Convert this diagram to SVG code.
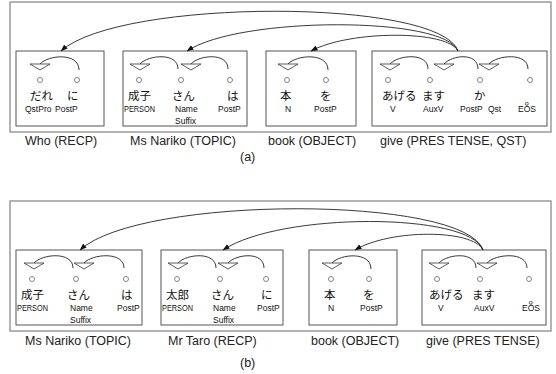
<svg xmlns="http://www.w3.org/2000/svg" xmlns:xlink="http://www.w3.org/1999/xlink" width="556" height="374" viewBox="0 0 556 374">
<style>
.frame{fill:none;stroke:#8c8c8c;stroke-width:1.3}
.box{fill:#fff;stroke:#555;stroke-width:1}
.arc{fill:none;stroke:#222;stroke-width:0.9}
.chev{fill:#fff;stroke:#333;stroke-width:0.8}
.dot{fill:#fff;stroke:#666;stroke-width:0.8}
.jp{font-family:"Noto Sans CJK JP","Noto Sans CJK SC",sans-serif;font-size:11.5px;fill:#111}
.pos{font-family:"Liberation Sans",Arial,sans-serif;font-size:8.5px;fill:#111}
.cap{font-family:"Liberation Sans",Arial,sans-serif;font-size:12.5px;fill:#222}
.conn{fill:none;stroke:#222;stroke-width:0.9;marker-end:url(#ah)}
</style>
<defs>
<marker id="ah" viewBox="0 0 8 6" refX="7.5" refY="3" markerWidth="7" markerHeight="5.5" orient="auto" markerUnits="userSpaceOnUse"><path d="M0,0 L8,3 L0,6 z" fill="#111"/></marker>
<path id="chev" class="chev" d="M-10,0 L10,0 L0,6 Z"/>
</defs>
<rect width="556" height="374" fill="#fff"/>

<!-- (a) -->
<g id="frame-a"><rect class="frame" x="10" y="2" width="541" height="130"/></g>

<g id="a-who">
<rect class="box" x="16" y="51" width="88" height="75"/>
<path class="arc" d="M40,64 C48,55 79,52 79,70"/>
<use xlink:href="#chev" x="40" y="64"/>
<circle class="dot" cx="40" cy="80" r="2.5"/><circle class="dot" cx="77" cy="80" r="2.5"/>
<text class="jp" x="30" y="100">だれ</text><text class="jp" x="67" y="100">に</text>
<text class="pos" x="25" y="112">QstPro</text><text class="pos" x="55" y="112">PostP</text>
</g>

<g id="a-nariko">
<rect class="box" x="123" y="51" width="124" height="75"/>
<path class="arc" d="M140,64 C148,55 178,52 178,69"/>
<path class="arc" d="M191,64 C199,55 228,52 228,69"/>
<use xlink:href="#chev" x="140" y="64"/><use xlink:href="#chev" x="191" y="64"/>
<circle class="dot" cx="139" cy="80" r="2.5"/><circle class="dot" cx="181" cy="80" r="2.5"/><circle class="dot" cx="230" cy="80" r="2.5"/>
<text class="jp" x="128" y="100">成子</text><text class="jp" x="172" y="100">さん</text><text class="jp" x="227" y="100">は</text>
<text class="pos" x="124" y="112" textLength="31" lengthAdjust="spacingAndGlyphs">PERSON</text>
<text class="pos" x="175" y="112">Name</text><text class="pos" x="175" y="124">Suffix</text>
<text class="pos" x="218" y="112">PostP</text>
</g>

<g id="a-book">
<rect class="box" x="266" y="51" width="90" height="75"/>
<path class="arc" d="M288,64 C296,55 328,52 328,70"/>
<use xlink:href="#chev" x="288" y="64"/>
<circle class="dot" cx="287" cy="80" r="2.5"/><circle class="dot" cx="326" cy="80" r="2.5"/>
<text class="jp" x="280" y="100">本</text><text class="jp" x="320" y="100">を</text>
<text class="pos" x="285" y="112">N</text><text class="pos" x="314" y="112">PostP</text>
</g>

<g id="a-give">
<rect class="box" x="372" y="51" width="175" height="75"/>
<path class="arc" d="M390,64 C398,55 428,52 428,69"/>
<path class="arc" d="M444,64 C452,55 478,52 478,69"/>
<path class="arc" d="M489,64 C497,55 528,52 528,69"/>
<use xlink:href="#chev" x="390" y="64"/><use xlink:href="#chev" x="444" y="64"/><use xlink:href="#chev" x="489" y="64"/>
<circle class="dot" cx="388" cy="80" r="2.5"/><circle class="dot" cx="430" cy="80" r="2.5"/><circle class="dot" cx="480" cy="80" r="2.5"/><circle class="dot" cx="530" cy="80" r="2.5"/>
<text class="jp" x="382" y="100">あげる</text><text class="jp" x="422" y="100">ます</text><text class="jp" x="474" y="100">か</text>
<text class="jp" x="524.5" y="105">。</text>
<text class="pos" x="390" y="112">V</text><text class="pos" x="423" y="112">AuxV</text><text class="pos" x="460" y="112">PostP</text><text class="pos" x="488" y="112">Qst</text><text class="pos" x="518" y="112">EOS</text>
</g>

<g id="a-captions">
<text class="cap" x="25" y="145">Who (RECP)</text>
<text class="cap" x="130" y="145">Ms Nariko (TOPIC)</text>
<text class="cap" x="268" y="145">book (OBJECT)</text>
<text class="cap" x="380" y="145">give (PRES TENSE, QST)</text>
<text class="cap" x="240" y="161">(a)</text>
</g>

<g id="a-connectors">
<path class="conn" d="M458,51 C440,-2 120,-2 61,51"/>
<path class="conn" d="M458,51 C445,16 240,16 187,51"/>
<path class="conn" d="M458,51 C448,30 350,30 311,51"/>
</g>

<!-- (b) -->
<g id="frame-b"><rect class="frame" x="10" y="201" width="541" height="130"/></g>

<g id="b-nariko">
<rect class="box" x="16" y="250" width="126" height="75"/>
<path class="arc" d="M34,263 C42,254 73,251 73,268"/>
<path class="arc" d="M84,263 C92,254 124,251 124,268"/>
<use xlink:href="#chev" x="34" y="263"/><use xlink:href="#chev" x="84" y="263"/>
<circle class="dot" cx="32" cy="279" r="2.5"/><circle class="dot" cx="76" cy="279" r="2.5"/><circle class="dot" cx="126" cy="279" r="2.5"/>
<text class="jp" x="21" y="299">成子</text><text class="jp" x="67" y="299">さん</text><text class="jp" x="121" y="299">は</text>
<text class="pos" x="17" y="311" textLength="31" lengthAdjust="spacingAndGlyphs">PERSON</text>
<text class="pos" x="70" y="311">Name</text><text class="pos" x="70" y="323">Suffix</text>
<text class="pos" x="117" y="311">PostP</text>
</g>

<g id="b-taro">
<rect class="box" x="161" y="250" width="122" height="75"/>
<path class="arc" d="M178,263 C186,254 216,251 216,268"/>
<path class="arc" d="M228,263 C236,254 264,251 264,268"/>
<use xlink:href="#chev" x="178" y="263"/><use xlink:href="#chev" x="228" y="263"/>
<circle class="dot" cx="177" cy="279" r="2.5"/><circle class="dot" cx="220" cy="279" r="2.5"/><circle class="dot" cx="266" cy="279" r="2.5"/>
<text class="jp" x="166" y="299">太郎</text><text class="jp" x="211" y="299">さん</text><text class="jp" x="261" y="299">に</text>
<text class="pos" x="162" y="311" textLength="31" lengthAdjust="spacingAndGlyphs">PERSON</text>
<text class="pos" x="213" y="311">Name</text><text class="pos" x="213" y="323">Suffix</text>
<text class="pos" x="257" y="311">PostP</text>
</g>

<g id="b-book">
<rect class="box" x="309" y="250" width="88" height="75"/>
<path class="arc" d="M332,263 C340,254 371,251 371,269"/>
<use xlink:href="#chev" x="332" y="263"/>
<circle class="dot" cx="331" cy="279" r="2.5"/><circle class="dot" cx="369" cy="279" r="2.5"/>
<text class="jp" x="324" y="299">本</text><text class="jp" x="363" y="299">を</text>
<text class="pos" x="328" y="311">N</text><text class="pos" x="360" y="311">PostP</text>
</g>

<g id="b-give">
<rect class="box" x="422" y="250" width="124" height="75"/>
<path class="arc" d="M439,263 C447,254 476,251 476,268"/>
<path class="arc" d="M487,263 C495,254 527,251 527,268"/>
<use xlink:href="#chev" x="439" y="263"/><use xlink:href="#chev" x="487" y="263"/>
<circle class="dot" cx="437" cy="279" r="2.5"/><circle class="dot" cx="480" cy="279" r="2.5"/><circle class="dot" cx="529" cy="279" r="2.5"/>
<text class="jp" x="429" y="299">あげる</text><text class="jp" x="472" y="299">ます</text>
<text class="jp" x="528.5" y="304">。</text>
<text class="pos" x="438" y="311">V</text><text class="pos" x="474" y="311">AuxV</text><text class="pos" x="522" y="311">EOS</text>
</g>

<g id="b-captions">
<text class="cap" x="25" y="345">Ms Nariko (TOPIC)</text>
<text class="cap" x="168" y="345">Mr Taro (RECP)</text>
<text class="cap" x="311" y="345">book (OBJECT)</text>
<text class="cap" x="426" y="345">give (PRES TENSE)</text>
<text class="cap" x="240" y="367">(b)</text>
</g>

<g id="b-connectors">
<path class="conn" d="M483,250 C465,195 140,195 80,250"/>
<path class="conn" d="M483,250 C470,212 280,212 223,250"/>
<path class="conn" d="M483,250 C473,229 390,229 355,250"/>
</g>
</svg>
